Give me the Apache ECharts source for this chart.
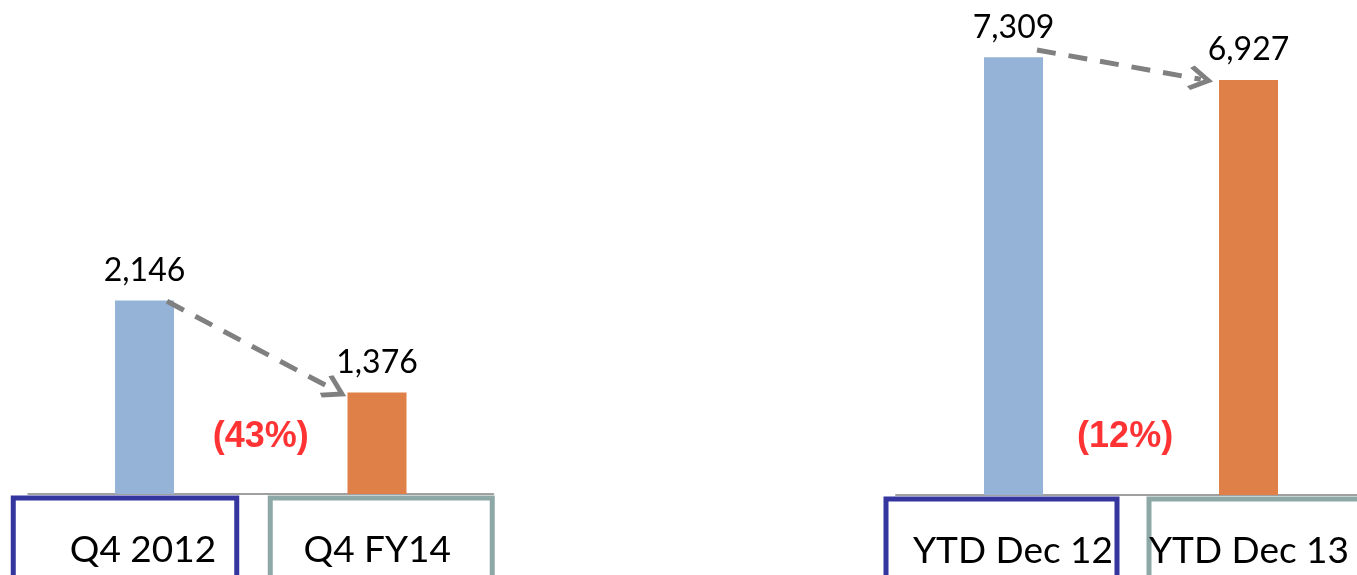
<!DOCTYPE html>
<html><head><meta charset="utf-8">
<script src="https://cdn.jsdelivr.net/npm/echarts@6/dist/echarts.min.js"></script>
<style>html,body{margin:0;padding:0;background:#fff}#c{width:1357px;height:575px}</style>
</head><body><div id="c"></div>
<script>
// ---- data ----
const leftCategories = ['Q4 2012', 'Q4 FY14'];
const leftValues = [2146, 1376];
const rightCategories = ['YTD Dec 12', 'YTD Dec 13'];
const rightValues = [7309, 6927];
const leftChange = '(43%)';
const rightChange = '(12%)';

// ---- styles ----
const barColors = ['#95B3D7', '#DE8048'];
const boxColors = ['#35359F', '#8EA8A8'];
const FONT = 'Lato';
const chevron = 'path://M50,0 L100,84 L87,100 L50,38 L13,100 L0,84 Z';

const chart = echarts.init(document.getElementById('c'), null, {renderer: 'canvas'});

function boxRich(color, padL, padR, w) {
  return {
    fontFamily: FONT, fontSize: 37, color: '#000',
    width: w, height: 44, align: 'center',
    borderColor: color, borderWidth: 5,
    padding: [30, padR, 60, padL]
  };
}
function spacer(w) { return {width: w, height: 1, fontSize: 1, color: 'rgba(0,0,0,0)'}; }

const xLabelBase = {
  interval: 0, margin: 4,
};

function barSeries(values, xi, yi) {
  return {
    type: 'bar', xAxisIndex: xi, yAxisIndex: yi, barWidth: 59,
    data: values.map((v, i) => ({value: v, itemStyle: {color: barColors[i]}})),
    label: {
      show: true, position: 'top', distance: 14,
      fontFamily: FONT, fontSize: 32, color: '#000',
      formatter: p => p.value.toLocaleString('en-US')
    },
    silent: true
  };
}

function annoSeries(xi, yi, labelPos, text, from, to) {
  return {
    type: 'scatter', xAxisIndex: xi, yAxisIndex: yi,
    symbolSize: 1, itemStyle: {color: 'rgba(0,0,0,0)'},
    data: [labelPos],
    label: {
      show: true, position: 'inside', formatter: text,
      fontFamily: 'Liberation Sans', fontWeight: 'bold', fontSize: 36, color: '#FF0000'
    },
    markLine: {
      silent: true, animation: false,
      symbol: ['none', chevron], symbolSize: [25, 25],
      lineStyle: {color: '#808080', width: 5, type: [19, 13], cap: 'butt'},
      label: {show: false},
      data: [[{coord: from}, {coord: to}]]
    },
    silent: true
  };
}

const option = {
  animation: false,
  backgroundColor: '#fff',
  grid: [
    {left: 28.25, width: 465, top: 43.55, bottom: 81, containLabel: false, outerBoundsMode: 'none'},
    {left: 896, width: 470, top: 15.8, bottom: 80, containLabel: false, outerBoundsMode: 'none'}
  ],
  xAxis: [
    {
      type: 'category', gridIndex: 0, data: leftCategories,
      axisLine: {lineStyle: {color: '#A0A0A0', width: 2}}, axisTick: {show: false},
      axisLabel: Object.assign({}, xLabelBase, {
        formatter: (v, i) => i === 0 ? '{a|' + v + '}{s0|.}' : '{s1|.}{b|' + v + '}',
        rich: {
          a: boxRich(boxColors[0], 36, 0, 187.5),
          s0: spacer(39),
          b: boxRich(boxColors[1], 0, 8, 214),
          s1: spacer(8.5)
        }
      })
    },
    {type: 'value', gridIndex: 0, min: -0.5, max: 1.5, show: false},
    {
      type: 'category', gridIndex: 1, data: rightCategories,
      axisLine: {lineStyle: {color: '#A0A0A0', width: 2}}, axisTick: {show: false},
      axisLabel: Object.assign({}, xLabelBase, {
        formatter: (v, i) => i === 0 ? '{a|' + v + '}{s0|.}' : '{s1|.}{b|' + v + '}',
        rich: {
          a: boxRich(boxColors[0], 23, 0, 208),
          s0: spacer(24),
          b: boxRich(boxColors[1], 0, 32, 200),
          s1: spacer(33)
        }
      })
    },
    {type: 'value', gridIndex: 1, min: -0.5, max: 1.5, show: false}
  ],
  yAxis: [
    {type: 'value', gridIndex: 0, min: 525, max: 4300, show: false, splitLine: {show: false}},
    {type: 'value', gridIndex: 1, min: 0, max: 8000, show: false, splitLine: {show: false}}
  ],
  series: [
    barSeries(leftValues, 0, 0),
    barSeries(rightValues, 2, 1),
    annoSeries(1, 0, [0.5, 1000], leftChange, [0.097, 2140], [0.82, 1394]),
    annoSeries(3, 1, [0.475, 965], rightChange, [0.1, 7429], [0.797, 6940])
  ]
};
chart.setOption(option);
</script>
</body></html>
